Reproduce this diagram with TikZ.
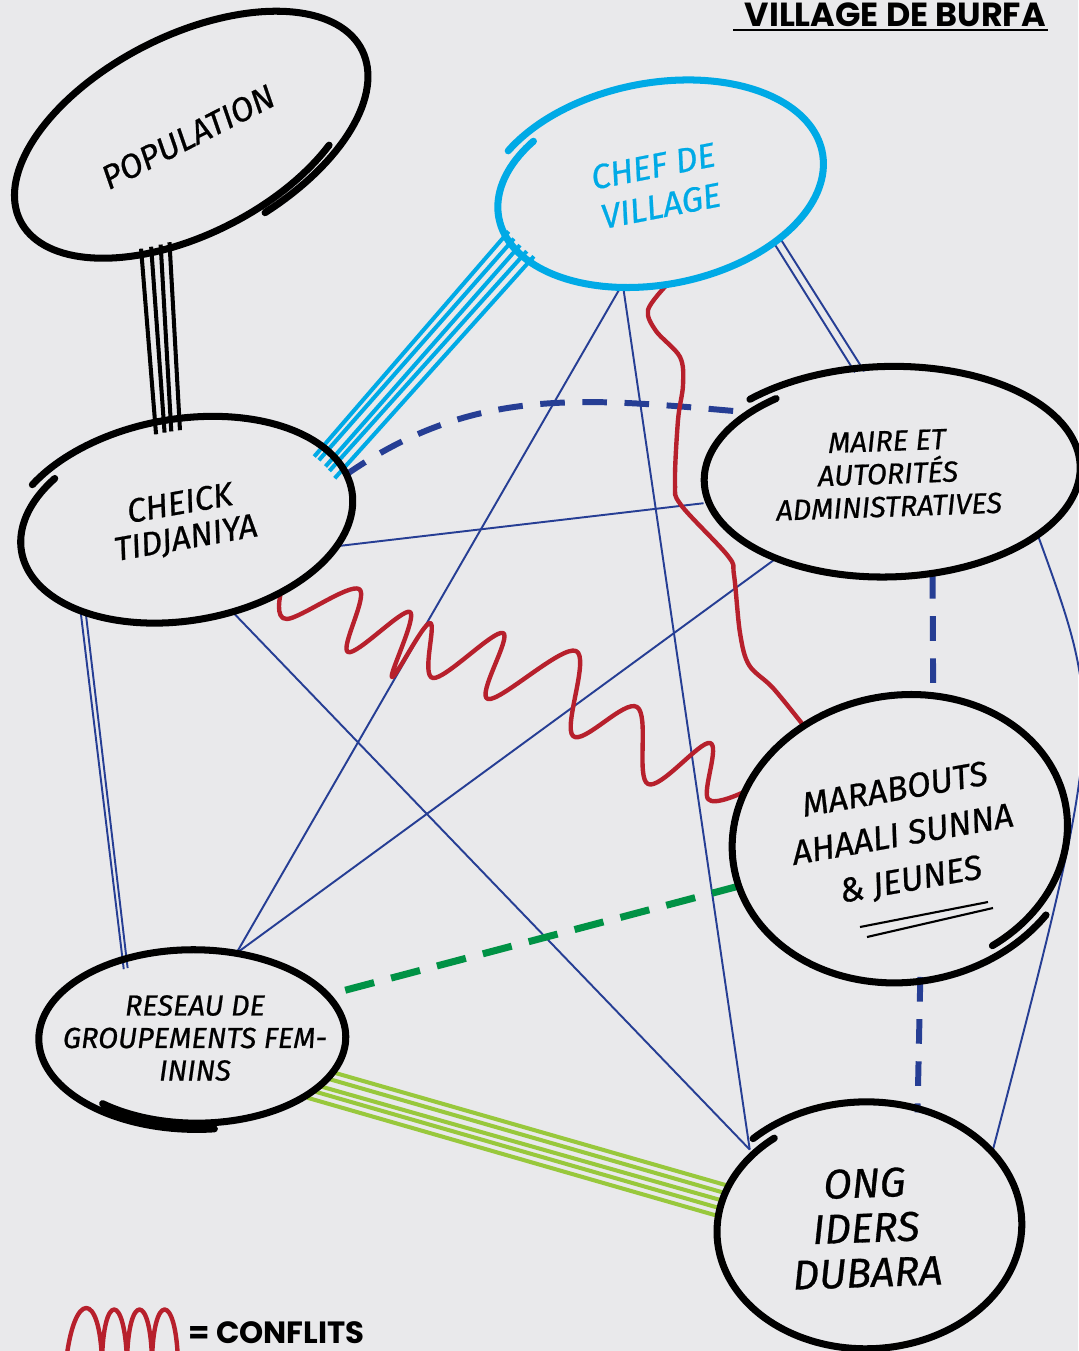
\documentclass[tikz,border=0pt]{standalone}
\usepackage{fontspec}
\newfontfamily\handfont{Fira Sans}[ItalicFeatures={FakeBold=0.7}]
\newfontfamily\titlefont{Poppins}
\usetikzlibrary{shapes.geometric}

\definecolor{paper}{RGB}{233,233,235}
\definecolor{navy}{RGB}{38,62,148}
\definecolor{conflictred}{RGB}{183,32,44}
\definecolor{chefblue}{RGB}{0,170,230}
\definecolor{darkgreen}{RGB}{0,146,69}
\definecolor{lightgreen}{RGB}{152,200,60}

\newcommand{\handloop}[8][]{%
\draw[ring,#1,shift={(#2.center)},rotate=#3] plot[domain=#6:#7,samples=160,variable=\t]
 ({#4*(1+#8*(0.5-(\t-(#6))/(#7-(#6))))*cos(\t)},{-#5*(1+#8*(0.5-(\t-(#6))/(#7-(#6))))*sin(\t)});}

\tikzset{
 actor/.style={ellipse,inner sep=-1cm,outer sep=0pt,align=center},
 ring/.style={black,line width=4pt,line cap=round},
 thinlink/.style={navy,line width=1.1pt},
 dashlink/.style={navy,line width=3.4pt,dash pattern=on 14pt off 10pt},
 greendash/.style={darkgreen,line width=4pt,dash pattern=on 17pt off 10pt},
 conflict/.style={conflictred,line width=2.5pt,line cap=round,line join=round},
 popline/.style={black,line width=2.3pt},
 chefline/.style={chefblue,line width=2.3pt},
 femline/.style={lightgreen,line width=2.3pt}
}

\begin{document}
\begin{tikzpicture}[x=0.02cm,y=-0.02cm]
\useasboundingbox (0,0) rectangle (1078,1351);
\fill[paper] (0,0) rectangle (1078,1351);

\node[actor,rotate=27,minimum width=7.6cm,minimum height=4cm,font=\handfont\itshape\fontsize{19}{22}\selectfont] (pop) at (188,137) {POPULATION};
\node[actor,rotate=11,minimum width=6.68cm,minimum height=4cm,text=chefblue,font=\handfont\itshape\fontsize{19.5}{23}\selectfont] (chef) at (657,186) {CHEF DE\\VILLAGE};
\node[actor,rotate=10,minimum width=6.8cm,minimum height=4cm,font=\handfont\itshape\fontsize{19}{20}\selectfont] (cheick) at (183,522) {CHEICK\\TIDJANIYA};
\node[actor,rotate=2,minimum width=7.6cm,minimum height=4.16cm,font=\handfont\itshape\fontsize{16.5}{18.7}\selectfont] (maire) at (888,474) {MAIRE ET\\AUTORITÉS\\ADMINISTRATIVES};
\node[actor,rotate=10,minimum width=6.8cm,minimum height=5.68cm,font=\handfont\itshape\fontsize{19.5}{26}\selectfont] (marab) at (903,836) {MARABOUTS\\AHAALI SUNNA\\\& JEUNES};
\node[actor,minimum width=6.12cm,minimum height=3.52cm,font=\handfont\itshape\fontsize{16.5}{18.5}\selectfont] (reseau) at (195,1038) {RESEAU DE\\GROUPEMENTS FEM-\\ININS};
\node[actor,rotate=2,minimum width=6.16cm,minimum height=4.88cm,font=\handfont\itshape\fontsize{23.5}{25.5}\selectfont] (ong) at (866,1228) {ONG\\IDERS\\DUBARA};

\foreach \p/\c in {222/96,226/91,230/87,234/82}
 \draw[popline,shorten <=-5pt,shorten >=-5pt] (pop.\p) -- (cheick.\c);
\foreach \h/\c in {188/18,191/16,194/13,197/11,200/8}
 \draw[chefline,shorten <=-6pt,shorten >=-6pt] (chef.\h) -- (cheick.\c);
\foreach \h/\m in {-37/106,-34/101}
 \draw[thinlink] (chef.\h) -- (maire.\m);
\foreach \c/\r in {212/133,214/131}
 \draw[thinlink,shorten >=-5pt] (cheick.\c) -- (reseau.\r);
\foreach \r/\o in {-14/161,-17/164,-21/167,-24/170,-28/173}
 \draw[femline,shorten >=-4pt] (reseau.\r) -- (ong.\o);

\draw[thinlink] (chef.239) -- (reseau.64);
\draw[thinlink] (chef.241) -- (ong.144);
\draw[thinlink] (cheick.-19) -- (maire.187);
\draw[thinlink] (cheick.-71) -- (ong.144);
\draw[thinlink] (maire.215) -- (reseau.64);
\draw[thinlink] (maire.-24) .. controls (1105,720) .. (ong.28);

\draw[dashlink] (cheick.6) to[out=35,in=175] (maire.155);
\draw[dashlink] (maire.-68) -- (marab.68);
\draw[dashlink] (marab.-93) -- (ong.64);
\draw[greendash] (marab.187) -- (reseau.18);

\draw[conflict] plot[smooth,tension=0.55] coordinates {(chef.264) (648,310) (656,331) (680,357) (683,385) (678,420) (675,483) (681,505) (728,556) (734,575) (740,633) (749,665) (773,688) (marab.122)};
\draw[conflict] plot[smooth,tension=0.6] coordinates {(cheick.-46) (287,619) (359,589) (348,652) (410,612) (392,677) (430,623) (433,678) (503,633) (488,699) (576,651) (573,736) (637,707) (648,784) (710,743) (708,799) (marab.154)};

\handloop{pop}{27}{190}{100}{-80}{312}{0.08}
\handloop[chefblue]{chef}{11}{167}{100}{135}{503}{-0.09}
\handloop{cheick}{10}{170}{100}{137}{503}{-0.09}
\handloop{maire}{2}{190}{104}{127}{493}{-0.09}
\handloop{marab}{10}{170}{142}{-65}{316}{-0.08}
\handloop{reseau}{0}{153}{88}{231}{637}{-0.08}
\handloop{ong}{2}{154}{122}{127}{493}{-0.09}

\draw[black,line width=1.2pt] (860,927) -- (988,902);
\draw[black,line width=1.2pt] (867,937) -- (993,908);

\node[font=\titlefont\bfseries\fontsize{19}{22}\selectfont,anchor=base east,inner sep=0pt] (title) at (1046,26.5) {VILLAGE DE BURFA};
\draw[black,line width=1.2pt] (733,30) -- (1048,30);

\draw[conflict] (66,1362) .. controls (74,1290) and (100,1290) .. (102,1362) .. controls (103,1292) and (125,1292) .. (127,1362) .. controls (128,1292) and (151,1292) .. (152,1362) .. controls (153,1292) and (176,1292) .. (178,1362);
\node[font=\titlefont\bfseries\fontsize{17.5}{20}\selectfont,anchor=base west,inner sep=0pt] (legend) at (188,1343) {= CONFLITS};

\end{tikzpicture}
\end{document}
